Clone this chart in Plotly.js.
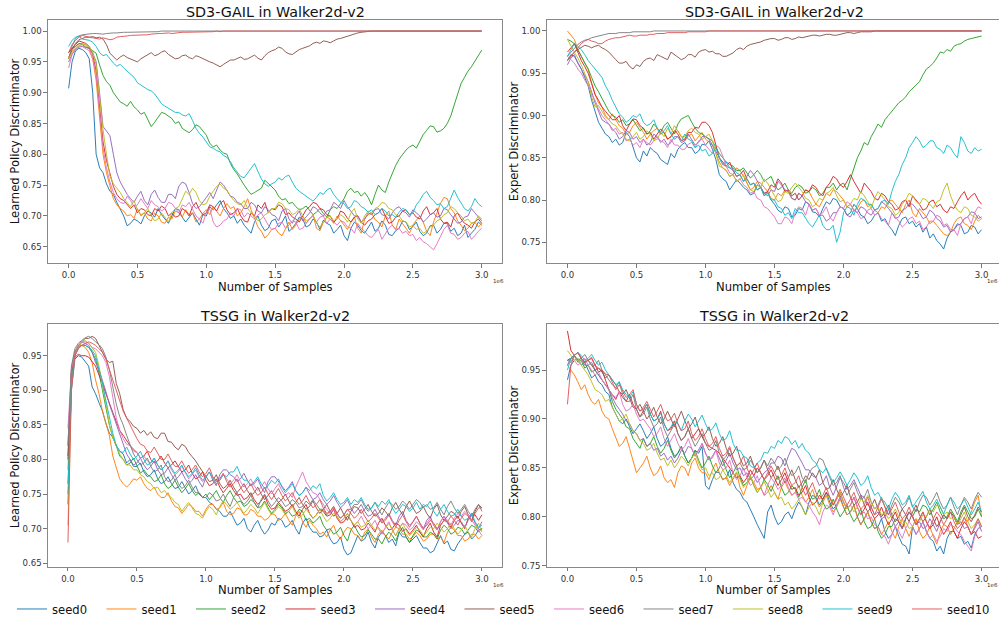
<!DOCTYPE html>
<html>
<head>
<meta charset="utf-8">
<script src="https://cdn.plot.ly/plotly-3.0.1.min.js"></script>
<style>html,body{margin:0;padding:0;background:#fff;}#chart{width:999px;height:628px;}</style>
</head>
<body>
<div id="chart"></div>
<script>
// sample positions (units of 1e6 samples)
const samples = [0,0.025,0.05,0.075,0.1,0.125,0.15,0.175,0.2,0.225,
0.25,0.275,0.3,0.325,0.35,0.375,0.4,0.425,0.45,0.475,
0.5,0.525,0.55,0.575,0.6,0.625,0.65,0.675,0.7,0.725,
0.75,0.775,0.8,0.825,0.85,0.875,0.9,0.925,0.95,0.975,
1,1.025,1.05,1.075,1.1,1.125,1.15,1.175,1.2,1.225,
1.25,1.275,1.3,1.325,1.35,1.375,1.4,1.425,1.45,1.475,
1.5,1.525,1.55,1.575,1.6,1.625,1.65,1.675,1.7,1.725,
1.75,1.775,1.8,1.825,1.85,1.875,1.9,1.925,1.95,1.975,
2,2.025,2.05,2.075,2.1,2.125,2.15,2.175,2.2,2.225,
2.25,2.275,2.3,2.325,2.35,2.375,2.4,2.425,2.45,2.475,
2.5,2.525,2.55,2.575,2.6,2.625,2.65,2.675,2.7,2.725,
2.75,2.775,2.8,2.825,2.85,2.875,2.9,2.925,2.95,2.975,
3];

const seedNames = ["seed0","seed1","seed2","seed3","seed4","seed5","seed6","seed7","seed8","seed9","seed10"];
const seedColors = ["#1f77b4","#ff7f0e","#2ca02c","#d62728","#9467bd","#8c564b","#e377c2","#7f7f7f","#bcbd22","#17becf","#e15759"];

const panelTitles = ["SD3-GAIL in Walker2d-v2","SD3-GAIL in Walker2d-v2","TSSG in Walker2d-v2","TSSG in Walker2d-v2"];
const yTitles = ["Learned Policy Discriminator","Expert Discriminator","Learned Policy Discriminator","Expert Discriminator"];
const xTitle = "Number of Samples";
const xTickVals = [0,0.5,1.0,1.5,2.0,2.5,3.0];
const xTickText = ["0.0","0.5","1.0","1.5","2.0","2.5","3.0"];
const yTickVals1 = [0.65,0.70,0.75,0.80,0.85,0.90,0.95,1.00];
const yTickVals2 = [0.75,0.80,0.85,0.90,0.95,1.00];
const yTickVals3 = [0.65,0.70,0.75,0.80,0.85,0.90,0.95];
const yTickVals4 = [0.75,0.80,0.85,0.90,0.95];

// ---- SD3-GAIL, Learned Policy Discriminator ----
const sd3Learned0 = [0.907,0.950,0.968,0.972,0.970,0.965,0.955,0.900,0.800,0.778,
0.770,0.752,0.740,0.735,0.722,0.712,0.700,0.684,0.688,0.695,
0.692,0.687,0.700,0.708,0.705,0.698,0.712,0.702,0.695,0.688,
0.700,0.712,0.710,0.698,0.690,0.697,0.705,0.695,0.685,0.702,
0.700,0.715,0.710,0.718,0.725,0.712,0.705,0.696,0.700,0.688,
0.695,0.685,0.678,0.672,0.690,0.700,0.685,0.676,0.680,0.692,
0.695,0.682,0.690,0.700,0.675,0.680,0.688,0.698,0.695,0.682,
0.685,0.695,0.690,0.678,0.693,0.688,0.685,0.672,0.678,0.685,
0.668,0.660,0.680,0.690,0.685,0.676,0.672,0.682,0.690,0.675,
0.680,0.692,0.685,0.670,0.668,0.676,0.680,0.692,0.690,0.678,
0.683,0.690,0.675,0.668,0.672,0.684,0.685,0.672,0.678,0.688,
0.688,0.675,0.680,0.668,0.672,0.685,0.665,0.672,0.678,0.690,
0.685];
const sd3Learned1 = [0.958,0.968,0.975,0.979,0.980,0.977,0.972,0.955,0.920,0.860,
0.800,0.770,0.748,0.728,0.718,0.712,0.708,0.700,0.702,0.696,
0.712,0.700,0.705,0.695,0.692,0.705,0.700,0.690,0.688,0.698,
0.695,0.708,0.705,0.698,0.710,0.702,0.705,0.690,0.695,0.704,
0.710,0.702,0.715,0.708,0.700,0.712,0.720,0.712,0.715,0.700,
0.705,0.715,0.728,0.710,0.695,0.682,0.675,0.664,0.670,0.678,
0.680,0.672,0.668,0.680,0.690,0.678,0.685,0.695,0.700,0.688,
0.695,0.702,0.680,0.676,0.690,0.698,0.695,0.688,0.700,0.692,
0.685,0.678,0.690,0.698,0.680,0.672,0.695,0.702,0.705,0.694,
0.690,0.682,0.700,0.708,0.685,0.678,0.695,0.688,0.680,0.672,
0.685,0.693,0.700,0.690,0.675,0.668,0.690,0.705,0.720,0.730,
0.728,0.712,0.705,0.692,0.685,0.676,0.680,0.688,0.690,0.682,
0.688];
const sd3Learned2 = [0.965,0.972,0.975,0.980,0.978,0.974,0.972,0.968,0.964,0.945,
0.928,0.918,0.912,0.900,0.893,0.885,0.882,0.878,0.886,0.877,
0.872,0.865,0.868,0.855,0.845,0.852,0.860,0.868,0.866,0.862,
0.858,0.850,0.853,0.842,0.838,0.835,0.840,0.848,0.845,0.838,
0.831,0.818,0.812,0.815,0.807,0.802,0.800,0.785,0.775,0.768,
0.758,0.750,0.742,0.735,0.738,0.742,0.745,0.758,0.753,0.748,
0.742,0.732,0.726,0.728,0.720,0.722,0.715,0.710,0.712,0.716,
0.709,0.702,0.706,0.712,0.704,0.698,0.710,0.715,0.712,0.720,
0.728,0.740,0.745,0.738,0.740,0.732,0.738,0.730,0.718,0.735,
0.750,0.742,0.738,0.755,0.770,0.782,0.792,0.800,0.807,0.812,
0.815,0.810,0.822,0.832,0.839,0.846,0.845,0.836,0.838,0.842,
0.850,0.862,0.880,0.898,0.915,0.925,0.935,0.942,0.951,0.960,
0.969];
const sd3Learned3 = [0.965,0.972,0.978,0.984,0.982,0.980,0.975,0.962,0.935,0.880,
0.820,0.790,0.770,0.748,0.735,0.728,0.725,0.718,0.712,0.718,
0.705,0.712,0.710,0.702,0.700,0.712,0.708,0.716,0.712,0.700,
0.705,0.698,0.700,0.712,0.708,0.700,0.715,0.722,0.710,0.702,
0.705,0.718,0.715,0.708,0.720,0.725,0.710,0.702,0.705,0.712,
0.700,0.692,0.690,0.705,0.700,0.718,0.712,0.722,0.705,0.712,
0.710,0.718,0.715,0.702,0.705,0.698,0.695,0.690,0.700,0.710,
0.715,0.722,0.720,0.712,0.710,0.702,0.700,0.690,0.695,0.708,
0.705,0.696,0.690,0.698,0.700,0.690,0.685,0.692,0.695,0.702,
0.705,0.712,0.700,0.688,0.690,0.698,0.700,0.708,0.710,0.702,
0.705,0.698,0.695,0.708,0.715,0.702,0.705,0.712,0.695,0.688,
0.690,0.682,0.700,0.705,0.695,0.688,0.685,0.680,0.690,0.695,
0.688];
const sd3Learned4 = [0.950,0.962,0.970,0.974,0.975,0.974,0.972,0.965,0.950,0.900,
0.845,0.838,0.830,0.800,0.770,0.755,0.745,0.735,0.728,0.722,
0.732,0.740,0.725,0.718,0.735,0.742,0.730,0.722,0.722,0.735,
0.735,0.728,0.748,0.755,0.752,0.738,0.720,0.712,0.715,0.722,
0.730,0.738,0.728,0.742,0.755,0.750,0.740,0.732,0.730,0.722,
0.720,0.712,0.712,0.722,0.718,0.708,0.705,0.715,0.710,0.702,
0.700,0.692,0.708,0.712,0.695,0.688,0.700,0.708,0.692,0.698,
0.705,0.715,0.712,0.705,0.700,0.708,0.710,0.722,0.718,0.712,
0.725,0.715,0.708,0.700,0.700,0.690,0.695,0.705,0.702,0.710,
0.712,0.702,0.700,0.695,0.705,0.712,0.715,0.708,0.705,0.698,
0.710,0.705,0.700,0.690,0.695,0.702,0.705,0.698,0.700,0.712,
0.710,0.702,0.695,0.688,0.690,0.698,0.700,0.712,0.705,0.698,
0.692];
const sd3Learned5 = [0.955,0.970,0.980,0.986,0.988,0.990,0.990,0.991,0.989,0.990,
0.987,0.978,0.964,0.958,0.953,0.958,0.961,0.957,0.955,0.952,
0.950,0.955,0.958,0.962,0.965,0.960,0.962,0.966,0.968,0.962,
0.958,0.955,0.956,0.960,0.961,0.957,0.955,0.960,0.958,0.955,
0.953,0.950,0.948,0.945,0.942,0.946,0.950,0.953,0.953,0.956,
0.958,0.954,0.955,0.958,0.961,0.956,0.953,0.960,0.965,0.968,
0.970,0.974,0.972,0.966,0.963,0.962,0.966,0.970,0.972,0.974,
0.976,0.980,0.982,0.980,0.984,0.983,0.981,0.984,0.987,0.988,
0.990,0.991,0.993,0.995,0.997,0.998,0.999,1,1,1,
1,1,1,1,1,1,1,1,1,1,
1,1,1,1,1,1,1,1,1,1,
1,1,1,1,1,1,1,1,1,1,
1];
const sd3Learned6 = [0.940,0.962,0.972,0.976,0.975,0.972,0.968,0.955,0.930,0.870,
0.810,0.778,0.755,0.738,0.728,0.722,0.720,0.732,0.725,0.715,
0.718,0.728,0.720,0.712,0.725,0.718,0.715,0.708,0.712,0.722,
0.720,0.712,0.705,0.718,0.715,0.722,0.710,0.700,0.695,0.688,
0.705,0.712,0.690,0.682,0.685,0.692,0.695,0.705,0.700,0.712,
0.710,0.698,0.705,0.700,0.695,0.702,0.705,0.695,0.685,0.678,
0.680,0.688,0.690,0.680,0.685,0.692,0.690,0.678,0.680,0.688,
0.695,0.700,0.690,0.698,0.700,0.688,0.695,0.690,0.685,0.692,
0.690,0.682,0.680,0.672,0.688,0.680,0.675,0.668,0.665,0.672,
0.678,0.662,0.670,0.680,0.685,0.678,0.680,0.672,0.675,0.668,
0.670,0.660,0.665,0.658,0.655,0.650,0.645,0.655,0.668,0.678,
0.685,0.672,0.670,0.662,0.665,0.672,0.675,0.662,0.668,0.675,
0.680];
const sd3Learned7 = [0.955,0.975,0.988,0.992,0.994,0.995,0.995,0.996,0.996,0.995,
0.995,0.996,0.997,0.997,0.997,0.998,0.998,0.998,0.998,0.999,
0.999,0.998,0.998,0.999,0.999,0.999,0.999,1,1,0.999,
0.999,1,1,1,1,1,1,1,1,1,
1,1,1,1,1,1,1,1,1,1,
1,1,1,1,1,1,1,1,1,1,
1,1,1,1,1,1,1,1,1,1,
1,1,1,1,1,1,1,1,1,1,
1,1,1,1,1,1,1,1,1,1,
1,1,1,1,1,1,1,1,1,1,
1,1,1,1,1,1,1,1,1,1,
1,1,1,1,1,1,1,1,1,1,
1];
const sd3Learned8 = [0.955,0.965,0.972,0.976,0.978,0.978,0.975,0.965,0.945,0.890,
0.840,0.800,0.765,0.752,0.745,0.738,0.728,0.722,0.715,0.725,
0.710,0.702,0.705,0.712,0.700,0.692,0.695,0.705,0.698,0.690,
0.705,0.712,0.715,0.728,0.740,0.735,0.745,0.738,0.725,0.718,
0.720,0.732,0.740,0.748,0.752,0.745,0.742,0.732,0.725,0.720,
0.718,0.725,0.712,0.705,0.700,0.692,0.695,0.702,0.705,0.712,
0.712,0.722,0.720,0.712,0.710,0.702,0.705,0.712,0.700,0.692,
0.695,0.702,0.688,0.682,0.690,0.698,0.700,0.692,0.695,0.702,
0.698,0.690,0.705,0.712,0.695,0.688,0.700,0.708,0.705,0.712,
0.715,0.722,0.720,0.712,0.710,0.702,0.700,0.692,0.690,0.682,
0.685,0.678,0.680,0.672,0.675,0.682,0.685,0.692,0.695,0.702,
0.705,0.715,0.712,0.705,0.700,0.692,0.695,0.688,0.690,0.700,
0.695];
const sd3Learned9 = [0.975,0.985,0.990,0.992,0.987,0.986,0.985,0.982,0.975,0.965,
0.960,0.962,0.955,0.948,0.943,0.946,0.940,0.935,0.930,0.925,
0.916,0.912,0.908,0.905,0.903,0.898,0.890,0.882,0.878,0.875,
0.872,0.868,0.868,0.864,0.862,0.866,0.855,0.842,0.834,0.828,
0.820,0.812,0.810,0.806,0.804,0.798,0.795,0.788,0.778,0.770,
0.764,0.762,0.770,0.778,0.785,0.772,0.760,0.752,0.748,0.752,
0.755,0.762,0.758,0.764,0.766,0.755,0.745,0.740,0.736,0.732,
0.728,0.724,0.730,0.738,0.735,0.742,0.745,0.735,0.728,0.722,
0.720,0.712,0.715,0.725,0.722,0.715,0.712,0.706,0.710,0.702,
0.705,0.712,0.708,0.700,0.702,0.698,0.706,0.712,0.710,0.702,
0.705,0.718,0.725,0.735,0.740,0.730,0.725,0.718,0.720,0.712,
0.715,0.728,0.742,0.730,0.720,0.712,0.708,0.715,0.728,0.720,
0.715];
const sd3Learned10 = [0.965,0.978,0.985,0.990,0.993,0.991,0.990,0.989,0.988,0.987,
0.989,0.988,0.986,0.987,0.990,0.991,0.991,0.992,0.993,0.993,
0.994,0.994,0.993,0.994,0.995,0.996,0.996,0.996,0.997,0.997,
0.996,0.997,0.998,0.998,0.998,0.998,0.999,0.999,0.998,0.999,
0.999,0.999,0.999,1,0.999,1,1,1,1,1,
1,1,1,1,1,1,1,1,1,1,
1,1,1,1,1,1,1,1,1,1,
1,1,1,1,1,1,1,1,1,1,
1,1,1,1,1,1,1,1,1,1,
1,1,1,1,1,1,1,1,1,1,
1,1,1,1,1,1,1,1,1,1,
1,1,1,1,1,1,1,1,1,1,
1];

// ---- SD3-GAIL, Expert Discriminator ----
const sd3Expert0 = [0.965,0.972,0.970,0.962,0.955,0.945,0.935,0.918,0.905,0.892,
0.885,0.878,0.875,0.868,0.872,0.865,0.868,0.880,0.875,0.862,
0.850,0.845,0.858,0.852,0.862,0.858,0.855,0.848,0.845,0.842,
0.855,0.850,0.860,0.865,0.868,0.862,0.862,0.855,0.858,0.866,
0.865,0.870,0.860,0.848,0.830,0.825,0.822,0.812,0.818,0.824,
0.820,0.815,0.812,0.806,0.808,0.818,0.815,0.805,0.810,0.800,
0.795,0.788,0.785,0.792,0.790,0.780,0.782,0.790,0.788,0.798,
0.795,0.786,0.785,0.780,0.790,0.798,0.795,0.802,0.800,0.792,
0.790,0.782,0.785,0.795,0.790,0.782,0.780,0.772,0.775,0.782,
0.785,0.775,0.778,0.770,0.765,0.758,0.770,0.778,0.780,0.772,
0.775,0.768,0.772,0.762,0.768,0.755,0.760,0.752,0.748,0.742,
0.755,0.762,0.765,0.772,0.770,0.760,0.762,0.770,0.768,0.760,
0.765];
const sd3Expert1 = [1.000,0.995,0.990,0.978,0.970,0.962,0.955,0.938,0.925,0.915,
0.910,0.900,0.895,0.902,0.895,0.888,0.885,0.878,0.880,0.888,
0.892,0.886,0.880,0.872,0.878,0.882,0.885,0.878,0.880,0.872,
0.875,0.880,0.882,0.875,0.870,0.876,0.878,0.870,0.875,0.880,
0.872,0.868,0.865,0.855,0.845,0.838,0.835,0.828,0.830,0.838,
0.835,0.828,0.820,0.812,0.815,0.822,0.820,0.815,0.810,0.802,
0.800,0.808,0.805,0.812,0.810,0.802,0.800,0.808,0.805,0.812,
0.810,0.802,0.795,0.792,0.800,0.808,0.805,0.812,0.810,0.805,
0.800,0.792,0.795,0.788,0.790,0.798,0.800,0.792,0.795,0.788,
0.785,0.792,0.790,0.798,0.800,0.795,0.790,0.785,0.795,0.800,
0.785,0.780,0.790,0.785,0.780,0.772,0.775,0.770,0.765,0.760,
0.758,0.762,0.772,0.778,0.780,0.772,0.770,0.765,0.775,0.782,
0.778];
const sd3Expert2 = [0.990,0.988,0.985,0.978,0.970,0.962,0.955,0.945,0.935,0.928,
0.920,0.912,0.905,0.900,0.898,0.892,0.895,0.888,0.890,0.895,
0.888,0.882,0.885,0.878,0.882,0.890,0.885,0.880,0.888,0.892,
0.885,0.878,0.890,0.896,0.898,0.900,0.892,0.885,0.880,0.878,
0.875,0.872,0.870,0.862,0.855,0.850,0.845,0.842,0.840,0.835,
0.835,0.838,0.832,0.826,0.830,0.835,0.830,0.822,0.825,0.828,
0.818,0.812,0.815,0.820,0.812,0.808,0.815,0.818,0.815,0.808,
0.810,0.815,0.812,0.805,0.808,0.815,0.815,0.820,0.812,0.818,
0.820,0.812,0.825,0.838,0.850,0.858,0.868,0.865,0.875,0.882,
0.890,0.886,0.895,0.900,0.905,0.910,0.915,0.918,0.922,0.928,
0.932,0.935,0.940,0.948,0.955,0.958,0.962,0.968,0.975,0.974,
0.978,0.976,0.982,0.984,0.985,0.988,0.990,0.991,0.992,0.993,
0.994];
const sd3Expert3 = [0.975,0.980,0.985,0.975,0.965,0.958,0.950,0.938,0.925,0.918,
0.910,0.905,0.900,0.895,0.895,0.900,0.888,0.882,0.890,0.896,
0.895,0.888,0.885,0.878,0.880,0.872,0.878,0.884,0.880,0.872,
0.875,0.882,0.878,0.870,0.872,0.880,0.880,0.886,0.885,0.892,
0.892,0.888,0.880,0.865,0.850,0.845,0.840,0.845,0.835,0.828,
0.830,0.835,0.825,0.818,0.820,0.812,0.815,0.808,0.810,0.818,
0.815,0.825,0.820,0.810,0.812,0.805,0.808,0.800,0.805,0.812,
0.810,0.818,0.815,0.808,0.805,0.815,0.820,0.828,0.825,0.818,
0.815,0.822,0.830,0.822,0.815,0.808,0.820,0.815,0.810,0.802,
0.800,0.808,0.805,0.798,0.795,0.788,0.790,0.798,0.800,0.792,
0.805,0.800,0.795,0.788,0.790,0.798,0.800,0.792,0.795,0.788,
0.785,0.792,0.790,0.798,0.805,0.810,0.800,0.805,0.808,0.800,
0.795];
const sd3Expert4 = [0.960,0.968,0.972,0.962,0.955,0.948,0.940,0.928,0.915,0.905,
0.895,0.892,0.890,0.884,0.880,0.872,0.875,0.882,0.880,0.872,
0.875,0.868,0.872,0.865,0.868,0.878,0.875,0.868,0.872,0.865,
0.868,0.875,0.875,0.868,0.870,0.878,0.872,0.865,0.868,0.875,
0.875,0.872,0.865,0.858,0.850,0.842,0.840,0.838,0.835,0.828,
0.830,0.822,0.828,0.835,0.830,0.822,0.815,0.808,0.805,0.812,
0.810,0.822,0.818,0.812,0.810,0.802,0.800,0.808,0.805,0.798,
0.795,0.788,0.790,0.782,0.782,0.775,0.778,0.785,0.785,0.792,
0.790,0.782,0.780,0.788,0.785,0.792,0.790,0.785,0.782,0.788,
0.790,0.798,0.795,0.790,0.785,0.778,0.780,0.788,0.790,0.796,
0.795,0.790,0.785,0.778,0.780,0.788,0.785,0.778,0.775,0.768,
0.770,0.762,0.765,0.770,0.772,0.778,0.780,0.786,0.785,0.778,
0.780];
const sd3Expert5 = [0.965,0.970,0.975,0.978,0.981,0.983,0.982,0.980,0.982,0.983,
0.980,0.978,0.975,0.970,0.966,0.962,0.962,0.964,0.958,0.955,
0.960,0.958,0.964,0.967,0.968,0.965,0.972,0.970,0.968,0.966,
0.975,0.972,0.970,0.966,0.968,0.972,0.972,0.969,0.975,0.977,
0.978,0.975,0.976,0.973,0.973,0.970,0.970,0.972,0.974,0.978,
0.980,0.978,0.982,0.984,0.985,0.986,0.987,0.989,0.990,0.991,
0.991,0.989,0.990,0.992,0.992,0.990,0.991,0.993,0.992,0.993,
0.994,0.995,0.995,0.994,0.995,0.996,0.996,0.995,0.995,0.996,
0.997,0.998,0.998,0.997,0.998,0.999,0.999,0.999,0.999,1,
1,1,1,1,1,1,1,1,1,1,
1,1,1,1,1,1,1,1,1,1,
1,1,1,1,1,1,1,1,1,1,
1];
const sd3Expert6 = [0.970,0.966,0.962,0.955,0.950,0.942,0.935,0.925,0.918,0.908,
0.900,0.895,0.890,0.882,0.885,0.878,0.880,0.870,0.872,0.865,
0.868,0.862,0.872,0.868,0.865,0.870,0.875,0.870,0.868,0.862,
0.872,0.865,0.865,0.860,0.860,0.866,0.868,0.862,0.870,0.872,
0.865,0.860,0.855,0.865,0.862,0.852,0.840,0.832,0.830,0.822,
0.825,0.818,0.815,0.808,0.810,0.802,0.800,0.792,0.790,0.785,
0.780,0.772,0.772,0.780,0.778,0.772,0.785,0.792,0.790,0.782,
0.795,0.788,0.790,0.782,0.785,0.792,0.780,0.775,0.785,0.792,
0.790,0.798,0.795,0.788,0.785,0.778,0.780,0.788,0.790,0.782,
0.785,0.778,0.775,0.770,0.785,0.780,0.775,0.768,0.772,0.778,
0.780,0.772,0.775,0.765,0.768,0.775,0.775,0.782,0.780,0.770,
0.772,0.765,0.765,0.758,0.772,0.778,0.780,0.772,0.785,0.792,
0.790];
const sd3Expert7 = [0.970,0.975,0.980,0.984,0.987,0.989,0.990,0.992,0.993,0.994,
0.995,0.996,0.997,0.997,0.997,0.998,0.998,0.998,0.998,0.999,
0.999,0.999,0.999,0.999,0.999,1,1,1,1,1,
1,1,1,1,1,1,1,1,1,1,
1,1,1,1,1,1,1,1,1,1,
1,1,1,1,1,1,1,1,1,1,
1,1,1,1,1,1,1,1,1,1,
1,1,1,1,1,1,1,1,1,1,
1,1,1,1,1,1,1,1,1,1,
1,1,1,1,1,1,1,1,1,1,
1,1,1,1,1,1,1,1,1,1,
1,1,1,1,1,1,1,1,1,1,
1];
const sd3Expert8 = [0.990,0.982,0.975,0.968,0.960,0.950,0.940,0.922,0.910,0.912,
0.905,0.898,0.895,0.890,0.888,0.882,0.878,0.872,0.870,0.875,
0.880,0.872,0.875,0.882,0.878,0.870,0.872,0.880,0.875,0.885,
0.878,0.888,0.882,0.875,0.875,0.882,0.885,0.880,0.878,0.872,
0.875,0.878,0.870,0.855,0.840,0.838,0.835,0.828,0.830,0.822,
0.825,0.830,0.820,0.812,0.810,0.818,0.815,0.825,0.820,0.812,
0.805,0.798,0.800,0.810,0.808,0.815,0.820,0.815,0.810,0.802,
0.800,0.792,0.795,0.802,0.800,0.808,0.810,0.815,0.805,0.798,
0.800,0.792,0.795,0.802,0.800,0.810,0.805,0.798,0.790,0.802,
0.810,0.805,0.800,0.792,0.790,0.782,0.785,0.795,0.800,0.808,
0.805,0.798,0.795,0.802,0.800,0.795,0.790,0.798,0.800,0.812,
0.820,0.805,0.795,0.788,0.785,0.792,0.790,0.782,0.780,0.775,
0.778];
const sd3Expert9 = [0.970,0.978,0.985,0.982,0.978,0.972,0.965,0.960,0.955,0.950,
0.945,0.935,0.928,0.918,0.910,0.902,0.898,0.892,0.895,0.900,
0.898,0.902,0.892,0.888,0.890,0.895,0.885,0.878,0.882,0.888,
0.878,0.872,0.875,0.870,0.878,0.872,0.870,0.862,0.865,0.858,
0.860,0.852,0.855,0.862,0.850,0.842,0.845,0.838,0.838,0.832,
0.830,0.822,0.825,0.818,0.820,0.812,0.815,0.805,0.808,0.800,
0.800,0.792,0.790,0.782,0.785,0.778,0.790,0.785,0.785,0.778,
0.772,0.768,0.775,0.782,0.770,0.765,0.765,0.770,0.750,0.762,
0.785,0.792,0.790,0.782,0.795,0.802,0.800,0.795,0.795,0.788,
0.790,0.798,0.800,0.795,0.810,0.822,0.830,0.842,0.850,0.862,
0.868,0.875,0.870,0.862,0.865,0.870,0.870,0.862,0.860,0.855,
0.865,0.862,0.855,0.850,0.875,0.868,0.858,0.855,0.862,0.858,
0.860];
const sd3Expert10 = [0.965,0.970,0.975,0.980,0.985,0.988,0.990,0.988,0.987,0.985,
0.985,0.988,0.990,0.991,0.992,0.992,0.993,0.994,0.995,0.994,
0.994,0.995,0.995,0.995,0.996,0.996,0.997,0.997,0.997,0.998,
0.998,0.998,0.998,0.998,0.998,0.999,0.999,0.999,0.999,0.999,
0.999,1,1,1,1,1,1,1,1,1,
1,1,1,1,1,1,1,1,1,1,
1,1,1,1,1,1,1,1,1,1,
1,1,1,1,1,1,1,1,1,1,
1,1,1,1,1,1,1,1,1,1,
1,1,1,1,1,1,1,1,1,1,
1,1,1,1,1,1,1,1,1,1,
1,1,1,1,1,1,1,1,1,1,
1];

// ---- TSSG, Learned Policy Discriminator ----
const tssgLearned0 = [0.765,0.900,0.945,0.950,0.948,0.942,0.935,0.905,0.895,0.882,
0.870,0.852,0.838,0.832,0.820,0.812,0.808,0.795,0.800,0.790,
0.790,0.795,0.782,0.775,0.778,0.785,0.772,0.765,0.768,0.775,
0.765,0.758,0.760,0.768,0.758,0.750,0.755,0.762,0.750,0.745,
0.745,0.738,0.735,0.728,0.725,0.718,0.718,0.725,0.715,0.705,
0.708,0.715,0.700,0.695,0.705,0.712,0.700,0.692,0.698,0.708,
0.705,0.715,0.712,0.702,0.705,0.712,0.700,0.692,0.708,0.715,
0.702,0.695,0.695,0.688,0.690,0.698,0.685,0.678,0.680,0.688,
0.670,0.662,0.665,0.678,0.690,0.682,0.685,0.695,0.680,0.672,
0.688,0.695,0.690,0.680,0.685,0.675,0.695,0.688,0.688,0.680,
0.685,0.690,0.680,0.672,0.672,0.665,0.668,0.680,0.690,0.678,
0.682,0.670,0.668,0.678,0.685,0.692,0.695,0.685,0.690,0.698,
0.700];
const tssgLearned1 = [0.785,0.930,0.955,0.965,0.965,0.962,0.955,0.940,0.915,0.895,
0.870,0.852,0.835,0.805,0.790,0.772,0.765,0.760,0.765,0.772,
0.770,0.775,0.765,0.758,0.755,0.760,0.750,0.745,0.745,0.752,
0.740,0.732,0.730,0.722,0.728,0.735,0.732,0.725,0.725,0.718,
0.728,0.735,0.735,0.728,0.730,0.738,0.725,0.720,0.722,0.730,
0.728,0.720,0.720,0.728,0.725,0.718,0.718,0.712,0.715,0.722,
0.720,0.712,0.715,0.722,0.712,0.705,0.718,0.725,0.710,0.702,
0.712,0.705,0.700,0.692,0.695,0.688,0.698,0.705,0.692,0.685,
0.695,0.702,0.700,0.692,0.690,0.682,0.695,0.700,0.688,0.680,
0.692,0.698,0.690,0.685,0.695,0.702,0.700,0.692,0.692,0.685,
0.688,0.695,0.690,0.682,0.685,0.692,0.692,0.685,0.688,0.680,
0.695,0.702,0.698,0.690,0.690,0.682,0.685,0.692,0.692,0.685,
0.690];
const tssgLearned2 = [0.735,0.910,0.950,0.962,0.965,0.965,0.962,0.955,0.945,0.925,
0.900,0.872,0.850,0.832,0.820,0.805,0.800,0.792,0.795,0.802,
0.790,0.780,0.785,0.778,0.775,0.768,0.770,0.778,0.765,0.758,
0.762,0.770,0.760,0.752,0.758,0.765,0.755,0.748,0.752,0.745,
0.750,0.742,0.748,0.755,0.745,0.738,0.748,0.755,0.745,0.738,
0.740,0.732,0.735,0.742,0.738,0.730,0.732,0.740,0.730,0.722,
0.728,0.735,0.730,0.722,0.725,0.718,0.720,0.728,0.725,0.712,
0.715,0.708,0.712,0.718,0.705,0.698,0.700,0.692,0.695,0.702,
0.690,0.682,0.698,0.705,0.695,0.688,0.690,0.698,0.692,0.685,
0.685,0.678,0.688,0.695,0.690,0.682,0.695,0.702,0.688,0.680,
0.690,0.698,0.695,0.688,0.688,0.695,0.692,0.685,0.698,0.705,
0.700,0.692,0.695,0.702,0.700,0.692,0.698,0.705,0.702,0.695,
0.700];
const tssgLearned3 = [0.800,0.920,0.948,0.952,0.950,0.950,0.948,0.942,0.935,0.922,
0.910,0.895,0.880,0.868,0.855,0.842,0.835,0.828,0.820,0.815,
0.810,0.802,0.805,0.812,0.800,0.795,0.798,0.805,0.795,0.788,
0.792,0.798,0.790,0.782,0.785,0.792,0.780,0.772,0.775,0.782,
0.770,0.762,0.765,0.772,0.760,0.752,0.758,0.765,0.755,0.748,
0.750,0.742,0.745,0.752,0.742,0.735,0.740,0.748,0.735,0.728,
0.730,0.738,0.732,0.725,0.728,0.735,0.725,0.718,0.728,0.735,
0.722,0.715,0.720,0.728,0.725,0.718,0.720,0.728,0.715,0.708,
0.710,0.718,0.712,0.702,0.705,0.698,0.700,0.708,0.702,0.695,
0.708,0.715,0.705,0.698,0.700,0.708,0.705,0.696,0.700,0.692,
0.698,0.705,0.695,0.688,0.700,0.708,0.695,0.688,0.705,0.712,
0.710,0.702,0.712,0.718,0.708,0.700,0.715,0.722,0.720,0.712,
0.720];
const tssgLearned4 = [0.820,0.930,0.955,0.965,0.970,0.968,0.965,0.955,0.940,0.930,
0.915,0.898,0.880,0.865,0.850,0.835,0.820,0.808,0.800,0.792,
0.795,0.802,0.792,0.785,0.790,0.798,0.785,0.778,0.780,0.788,
0.778,0.770,0.775,0.782,0.772,0.765,0.770,0.778,0.768,0.760,
0.775,0.782,0.770,0.762,0.778,0.785,0.785,0.778,0.775,0.768,
0.772,0.780,0.770,0.762,0.765,0.772,0.760,0.752,0.768,0.775,
0.775,0.768,0.762,0.755,0.760,0.768,0.755,0.748,0.752,0.760,
0.750,0.742,0.745,0.752,0.742,0.735,0.740,0.748,0.738,0.730,
0.735,0.742,0.730,0.722,0.728,0.735,0.725,0.718,0.720,0.728,
0.718,0.710,0.715,0.722,0.712,0.705,0.718,0.725,0.712,0.705,
0.710,0.718,0.708,0.700,0.712,0.718,0.705,0.698,0.710,0.718,
0.708,0.700,0.705,0.712,0.710,0.702,0.712,0.720,0.708,0.700,
0.710];
const tssgLearned5 = [0.805,0.925,0.955,0.962,0.970,0.975,0.975,0.978,0.975,0.965,
0.955,0.945,0.940,0.942,0.910,0.895,0.872,0.860,0.855,0.848,
0.845,0.838,0.842,0.835,0.840,0.832,0.830,0.838,0.838,0.826,
0.825,0.818,0.814,0.822,0.819,0.810,0.804,0.798,0.790,0.782,
0.775,0.768,0.770,0.778,0.765,0.758,0.762,0.770,0.760,0.752,
0.758,0.765,0.755,0.748,0.752,0.760,0.750,0.742,0.748,0.755,
0.745,0.738,0.742,0.750,0.740,0.732,0.738,0.745,0.735,0.728,
0.732,0.740,0.730,0.722,0.728,0.735,0.725,0.718,0.722,0.730,
0.720,0.712,0.725,0.732,0.730,0.722,0.728,0.735,0.725,0.718,
0.722,0.730,0.725,0.718,0.730,0.738,0.728,0.720,0.732,0.740,
0.730,0.722,0.725,0.732,0.722,0.715,0.728,0.735,0.720,0.712,
0.718,0.725,0.722,0.715,0.725,0.732,0.720,0.712,0.725,0.735,
0.730];
const tssgLearned6 = [0.845,0.930,0.955,0.965,0.970,0.970,0.968,0.962,0.960,0.955,
0.950,0.940,0.920,0.890,0.860,0.842,0.830,0.822,0.820,0.812,
0.810,0.802,0.805,0.798,0.795,0.802,0.792,0.785,0.790,0.798,
0.785,0.778,0.782,0.790,0.780,0.772,0.778,0.785,0.775,0.768,
0.775,0.782,0.772,0.765,0.770,0.778,0.772,0.765,0.770,0.778,
0.768,0.760,0.765,0.772,0.762,0.755,0.760,0.768,0.758,0.750,
0.758,0.765,0.755,0.748,0.752,0.745,0.760,0.772,0.782,0.768,
0.760,0.752,0.750,0.742,0.735,0.728,0.722,0.730,0.718,0.710,
0.715,0.722,0.712,0.705,0.710,0.718,0.708,0.700,0.705,0.712,
0.700,0.692,0.702,0.710,0.698,0.690,0.700,0.708,0.705,0.698,
0.702,0.710,0.705,0.698,0.708,0.715,0.705,0.698,0.710,0.718,
0.712,0.705,0.715,0.722,0.718,0.725,0.720,0.712,0.705,0.698,
0.690];
const tssgLearned7 = [0.820,0.935,0.960,0.968,0.972,0.976,0.978,0.975,0.970,0.966,
0.960,0.948,0.930,0.905,0.880,0.862,0.850,0.835,0.820,0.808,
0.800,0.792,0.795,0.802,0.790,0.782,0.785,0.792,0.775,0.768,
0.770,0.778,0.765,0.758,0.762,0.770,0.760,0.752,0.752,0.745,
0.745,0.752,0.748,0.740,0.742,0.750,0.740,0.732,0.745,0.752,
0.742,0.735,0.740,0.748,0.738,0.730,0.742,0.750,0.740,0.732,
0.738,0.745,0.740,0.732,0.735,0.742,0.738,0.730,0.732,0.740,
0.735,0.742,0.735,0.728,0.728,0.720,0.725,0.732,0.722,0.715,
0.720,0.728,0.728,0.735,0.735,0.742,0.732,0.725,0.730,0.738,
0.728,0.720,0.730,0.738,0.735,0.728,0.732,0.740,0.735,0.728,
0.735,0.742,0.738,0.730,0.735,0.728,0.730,0.738,0.728,0.720,
0.732,0.740,0.730,0.722,0.728,0.735,0.725,0.718,0.728,0.735,
0.725];
const tssgLearned8 = [0.705,0.905,0.950,0.962,0.970,0.972,0.968,0.962,0.955,0.935,
0.910,0.880,0.850,0.832,0.820,0.808,0.800,0.792,0.792,0.785,
0.785,0.778,0.775,0.768,0.765,0.758,0.760,0.752,0.755,0.748,
0.745,0.738,0.735,0.725,0.732,0.738,0.730,0.722,0.720,0.715,
0.725,0.732,0.728,0.720,0.732,0.740,0.735,0.728,0.732,0.738,
0.730,0.722,0.728,0.735,0.730,0.722,0.730,0.738,0.728,0.720,
0.725,0.732,0.728,0.720,0.725,0.732,0.722,0.715,0.720,0.728,
0.722,0.715,0.720,0.728,0.718,0.710,0.715,0.722,0.718,0.710,
0.715,0.722,0.712,0.705,0.710,0.702,0.705,0.712,0.705,0.698,
0.702,0.695,0.700,0.708,0.698,0.690,0.700,0.708,0.698,0.690,
0.695,0.702,0.698,0.690,0.695,0.702,0.700,0.708,0.702,0.695,
0.700,0.708,0.700,0.692,0.698,0.705,0.695,0.688,0.700,0.708,
0.695];
const tssgLearned9 = [0.750,0.910,0.950,0.960,0.965,0.965,0.962,0.958,0.950,0.932,
0.910,0.885,0.860,0.838,0.820,0.812,0.810,0.818,0.808,0.800,
0.805,0.812,0.800,0.792,0.795,0.802,0.792,0.785,0.790,0.798,
0.788,0.780,0.785,0.792,0.782,0.775,0.780,0.788,0.778,0.770,
0.775,0.782,0.772,0.765,0.770,0.778,0.775,0.782,0.782,0.790,
0.778,0.770,0.770,0.762,0.768,0.775,0.765,0.758,0.762,0.770,
0.765,0.772,0.760,0.752,0.758,0.765,0.755,0.748,0.752,0.760,
0.755,0.762,0.758,0.765,0.748,0.740,0.745,0.752,0.742,0.735,
0.738,0.745,0.735,0.742,0.738,0.745,0.735,0.728,0.730,0.738,
0.732,0.740,0.735,0.742,0.730,0.722,0.728,0.735,0.732,0.725,
0.730,0.738,0.728,0.735,0.732,0.740,0.725,0.718,0.728,0.735,
0.725,0.718,0.720,0.728,0.718,0.712,0.715,0.722,0.710,0.702,
0.705];
const tssgLearned10 = [0.680,0.900,0.950,0.960,0.965,0.968,0.970,0.968,0.965,0.960,
0.955,0.945,0.930,0.915,0.900,0.885,0.870,0.860,0.850,0.838,
0.830,0.822,0.820,0.812,0.810,0.818,0.808,0.800,0.800,0.808,
0.798,0.790,0.790,0.798,0.788,0.780,0.785,0.792,0.782,0.775,
0.780,0.788,0.775,0.768,0.772,0.780,0.768,0.760,0.765,0.772,
0.760,0.752,0.758,0.765,0.755,0.748,0.752,0.760,0.750,0.742,
0.750,0.758,0.748,0.740,0.745,0.752,0.742,0.735,0.740,0.748,
0.738,0.730,0.735,0.742,0.730,0.722,0.725,0.732,0.722,0.715,
0.720,0.728,0.722,0.715,0.720,0.728,0.718,0.710,0.715,0.722,
0.715,0.708,0.712,0.720,0.710,0.702,0.712,0.720,0.710,0.702,
0.710,0.718,0.708,0.700,0.705,0.712,0.708,0.700,0.705,0.712,
0.710,0.718,0.712,0.705,0.715,0.722,0.718,0.710,0.722,0.730,
0.730];

// ---- TSSG, Expert Discriminator ----
const tssgExpert0 = [0.940,0.955,0.960,0.962,0.955,0.958,0.950,0.942,0.945,0.938,
0.935,0.928,0.925,0.912,0.905,0.898,0.895,0.900,0.892,0.885,
0.890,0.895,0.888,0.880,0.885,0.892,0.880,0.872,0.875,0.882,
0.870,0.862,0.865,0.872,0.862,0.855,0.860,0.868,0.865,0.872,
0.832,0.828,0.838,0.846,0.845,0.838,0.840,0.848,0.835,0.828,
0.825,0.818,0.815,0.808,0.800,0.792,0.785,0.778,0.805,0.812,
0.800,0.792,0.795,0.802,0.805,0.798,0.808,0.815,0.810,0.802,
0.815,0.822,0.820,0.812,0.818,0.825,0.815,0.808,0.812,0.820,
0.810,0.802,0.805,0.812,0.800,0.792,0.798,0.805,0.795,0.788,
0.790,0.798,0.785,0.778,0.782,0.790,0.780,0.772,0.770,0.762,
0.790,0.782,0.788,0.795,0.785,0.778,0.775,0.765,0.770,0.762,
0.778,0.785,0.785,0.778,0.780,0.772,0.775,0.768,0.782,0.788,
0.790];
const tssgExpert1 = [0.955,0.950,0.945,0.938,0.930,0.935,0.925,0.918,0.915,0.920,
0.908,0.902,0.900,0.890,0.880,0.872,0.875,0.882,0.870,0.858,
0.845,0.850,0.855,0.862,0.850,0.842,0.845,0.852,0.840,0.835,
0.838,0.830,0.845,0.852,0.850,0.842,0.855,0.860,0.850,0.845,
0.845,0.838,0.848,0.855,0.845,0.838,0.840,0.832,0.838,0.845,
0.830,0.822,0.832,0.840,0.835,0.828,0.830,0.822,0.825,0.832,
0.825,0.818,0.830,0.836,0.828,0.822,0.825,0.832,0.822,0.815,
0.820,0.828,0.818,0.810,0.815,0.822,0.812,0.805,0.810,0.818,
0.810,0.802,0.805,0.812,0.800,0.792,0.798,0.805,0.795,0.788,
0.790,0.782,0.788,0.795,0.785,0.778,0.790,0.798,0.788,0.780,
0.790,0.798,0.785,0.778,0.782,0.790,0.780,0.772,0.785,0.792,
0.790,0.782,0.788,0.795,0.792,0.798,0.795,0.805,0.815,0.822,
0.800];
const tssgExpert2 = [0.960,0.962,0.965,0.958,0.960,0.952,0.955,0.948,0.950,0.945,
0.940,0.935,0.930,0.918,0.910,0.905,0.900,0.892,0.890,0.880,
0.875,0.870,0.880,0.872,0.875,0.882,0.872,0.865,0.870,0.878,
0.868,0.860,0.865,0.872,0.862,0.855,0.860,0.868,0.858,0.850,
0.855,0.862,0.852,0.845,0.850,0.858,0.848,0.840,0.845,0.852,
0.840,0.832,0.835,0.842,0.832,0.825,0.830,0.838,0.833,0.826,
0.835,0.842,0.830,0.822,0.825,0.832,0.828,0.820,0.830,0.838,
0.825,0.818,0.820,0.828,0.815,0.808,0.810,0.818,0.808,0.800,
0.805,0.812,0.802,0.795,0.800,0.808,0.795,0.788,0.790,0.798,
0.785,0.778,0.782,0.790,0.790,0.798,0.795,0.788,0.798,0.805,
0.800,0.808,0.805,0.812,0.810,0.802,0.808,0.815,0.805,0.798,
0.800,0.808,0.802,0.795,0.805,0.812,0.805,0.798,0.800,0.808,
0.800];
const tssgExpert3 = [0.990,0.970,0.965,0.968,0.962,0.958,0.960,0.962,0.955,0.948,
0.950,0.940,0.930,0.925,0.920,0.928,0.922,0.918,0.925,0.915,
0.910,0.902,0.908,0.915,0.905,0.898,0.900,0.908,0.895,0.888,
0.890,0.898,0.885,0.878,0.882,0.890,0.880,0.885,0.890,0.882,
0.875,0.872,0.870,0.868,0.865,0.860,0.855,0.850,0.845,0.840,
0.842,0.835,0.840,0.848,0.842,0.850,0.845,0.838,0.842,0.848,
0.840,0.832,0.838,0.845,0.835,0.828,0.830,0.822,0.825,0.832,
0.820,0.812,0.815,0.822,0.818,0.825,0.820,0.812,0.818,0.825,
0.815,0.808,0.812,0.820,0.810,0.802,0.808,0.815,0.805,0.798,
0.802,0.810,0.800,0.792,0.798,0.805,0.795,0.788,0.798,0.805,
0.800,0.792,0.798,0.805,0.795,0.788,0.792,0.800,0.790,0.782,
0.788,0.795,0.785,0.778,0.788,0.795,0.790,0.782,0.785,0.778,
0.780];
const tssgExpert4 = [0.960,0.958,0.965,0.960,0.962,0.955,0.955,0.958,0.950,0.945,
0.940,0.935,0.930,0.922,0.915,0.910,0.905,0.898,0.895,0.888,
0.885,0.878,0.880,0.872,0.875,0.868,0.870,0.862,0.865,0.858,
0.862,0.855,0.860,0.868,0.865,0.872,0.870,0.862,0.868,0.875,
0.865,0.858,0.862,0.868,0.860,0.852,0.858,0.865,0.855,0.848,
0.850,0.842,0.845,0.838,0.842,0.835,0.840,0.845,0.848,0.855,
0.855,0.862,0.860,0.852,0.862,0.870,0.868,0.862,0.855,0.848,
0.848,0.842,0.840,0.832,0.835,0.842,0.830,0.822,0.832,0.840,
0.835,0.828,0.832,0.838,0.830,0.822,0.820,0.812,0.810,0.802,
0.805,0.798,0.800,0.808,0.798,0.790,0.795,0.788,0.798,0.805,
0.800,0.792,0.795,0.788,0.790,0.798,0.792,0.785,0.795,0.802,
0.798,0.805,0.800,0.792,0.795,0.788,0.790,0.782,0.788,0.795,
0.785];
const tssgExpert5 = [0.960,0.962,0.965,0.968,0.962,0.958,0.960,0.955,0.950,0.952,
0.948,0.942,0.945,0.940,0.935,0.928,0.925,0.930,0.920,0.912,
0.910,0.915,0.908,0.900,0.905,0.912,0.902,0.895,0.900,0.908,
0.900,0.892,0.900,0.908,0.898,0.890,0.895,0.902,0.890,0.882,
0.885,0.892,0.880,0.872,0.875,0.882,0.870,0.862,0.865,0.872,
0.860,0.852,0.855,0.862,0.852,0.845,0.850,0.858,0.848,0.840,
0.845,0.852,0.842,0.835,0.840,0.848,0.838,0.830,0.835,0.842,
0.838,0.845,0.840,0.848,0.835,0.828,0.830,0.838,0.828,0.820,
0.825,0.832,0.820,0.812,0.815,0.822,0.812,0.805,0.810,0.818,
0.808,0.800,0.805,0.812,0.802,0.795,0.800,0.808,0.802,0.795,
0.805,0.812,0.802,0.795,0.800,0.808,0.798,0.790,0.795,0.802,
0.798,0.805,0.800,0.792,0.802,0.810,0.800,0.795,0.802,0.810,
0.805];
const tssgExpert6 = [0.955,0.962,0.960,0.955,0.958,0.962,0.955,0.950,0.945,0.948,
0.940,0.935,0.930,0.925,0.922,0.928,0.915,0.908,0.910,0.915,
0.905,0.898,0.900,0.895,0.890,0.882,0.885,0.892,0.880,0.872,
0.878,0.885,0.875,0.868,0.872,0.880,0.870,0.862,0.868,0.875,
0.865,0.858,0.860,0.868,0.855,0.848,0.850,0.858,0.845,0.838,
0.842,0.850,0.840,0.832,0.835,0.842,0.830,0.822,0.832,0.840,
0.835,0.828,0.832,0.840,0.830,0.822,0.825,0.818,0.820,0.815,
0.812,0.805,0.800,0.792,0.805,0.812,0.810,0.802,0.812,0.820,
0.815,0.808,0.812,0.820,0.810,0.802,0.805,0.798,0.800,0.792,
0.790,0.782,0.780,0.772,0.782,0.790,0.785,0.778,0.788,0.795,
0.790,0.782,0.788,0.795,0.785,0.778,0.782,0.775,0.780,0.788,
0.785,0.792,0.790,0.785,0.782,0.775,0.770,0.765,0.780,0.788,
0.790];
const tssgExpert7 = [0.955,0.962,0.965,0.960,0.962,0.966,0.960,0.955,0.955,0.960,
0.950,0.945,0.940,0.935,0.932,0.938,0.925,0.918,0.918,0.925,
0.910,0.902,0.905,0.912,0.900,0.892,0.895,0.902,0.890,0.882,
0.888,0.895,0.885,0.878,0.882,0.890,0.880,0.872,0.878,0.885,
0.875,0.868,0.870,0.878,0.865,0.858,0.862,0.870,0.860,0.852,
0.855,0.848,0.850,0.858,0.852,0.845,0.850,0.858,0.852,0.860,
0.855,0.848,0.852,0.860,0.850,0.842,0.845,0.852,0.840,0.835,
0.845,0.850,0.852,0.860,0.858,0.848,0.840,0.832,0.835,0.842,
0.830,0.822,0.828,0.835,0.825,0.818,0.820,0.828,0.815,0.808,
0.812,0.820,0.810,0.802,0.812,0.820,0.815,0.808,0.812,0.820,
0.810,0.805,0.815,0.822,0.820,0.812,0.818,0.825,0.815,0.808,
0.812,0.820,0.810,0.802,0.812,0.820,0.815,0.808,0.818,0.825,
0.820];
const tssgExpert8 = [0.970,0.965,0.960,0.962,0.955,0.950,0.945,0.938,0.930,0.928,
0.925,0.918,0.920,0.912,0.905,0.898,0.900,0.905,0.895,0.888,
0.885,0.878,0.875,0.868,0.870,0.875,0.865,0.858,0.860,0.852,
0.858,0.850,0.855,0.862,0.858,0.852,0.860,0.865,0.855,0.848,
0.850,0.842,0.845,0.838,0.840,0.848,0.842,0.835,0.840,0.846,
0.838,0.830,0.835,0.842,0.832,0.825,0.830,0.836,0.828,0.820,
0.825,0.818,0.820,0.812,0.815,0.808,0.812,0.818,0.810,0.802,
0.810,0.815,0.810,0.802,0.815,0.822,0.820,0.812,0.818,0.825,
0.815,0.808,0.812,0.805,0.810,0.818,0.815,0.822,0.815,0.808,
0.810,0.802,0.805,0.798,0.802,0.808,0.800,0.792,0.795,0.788,
0.790,0.798,0.795,0.802,0.800,0.808,0.805,0.812,0.810,0.802,
0.805,0.798,0.800,0.792,0.798,0.805,0.795,0.788,0.792,0.798,
0.790];
const tssgExpert9 = [0.950,0.962,0.965,0.968,0.965,0.960,0.962,0.966,0.960,0.955,
0.958,0.950,0.945,0.940,0.935,0.938,0.930,0.925,0.922,0.928,
0.915,0.908,0.910,0.915,0.905,0.898,0.900,0.906,0.895,0.888,
0.892,0.898,0.895,0.888,0.898,0.905,0.900,0.892,0.898,0.904,
0.895,0.888,0.890,0.896,0.885,0.878,0.880,0.888,0.875,0.868,
0.868,0.862,0.860,0.852,0.850,0.855,0.858,0.866,0.865,0.872,
0.870,0.878,0.875,0.882,0.880,0.874,0.878,0.870,0.875,0.868,
0.865,0.858,0.855,0.848,0.845,0.850,0.842,0.835,0.840,0.846,
0.840,0.832,0.838,0.845,0.840,0.832,0.835,0.842,0.830,0.822,
0.825,0.818,0.815,0.808,0.818,0.825,0.820,0.812,0.815,0.822,
0.810,0.815,0.820,0.826,0.815,0.808,0.812,0.818,0.810,0.803,
0.812,0.820,0.815,0.808,0.812,0.818,0.810,0.802,0.808,0.815,
0.805];
const tssgExpert10 = [0.915,0.955,0.965,0.968,0.962,0.958,0.960,0.963,0.955,0.952,
0.950,0.946,0.945,0.938,0.930,0.935,0.928,0.922,0.925,0.930,
0.915,0.908,0.912,0.918,0.910,0.902,0.908,0.915,0.905,0.898,
0.900,0.906,0.895,0.888,0.890,0.898,0.885,0.878,0.882,0.890,
0.880,0.872,0.875,0.882,0.870,0.862,0.865,0.872,0.860,0.852,
0.855,0.862,0.850,0.842,0.848,0.855,0.845,0.838,0.845,0.852,
0.845,0.838,0.842,0.850,0.840,0.832,0.835,0.842,0.830,0.822,
0.828,0.835,0.825,0.818,0.822,0.830,0.820,0.812,0.820,0.828,
0.820,0.812,0.818,0.825,0.815,0.808,0.812,0.820,0.810,0.802,
0.810,0.818,0.810,0.802,0.808,0.815,0.805,0.798,0.802,0.810,
0.800,0.792,0.798,0.805,0.795,0.788,0.798,0.805,0.800,0.792,
0.798,0.805,0.795,0.788,0.792,0.800,0.790,0.782,0.790,0.798,
0.790];

const panels = [
  [sd3Learned0,sd3Learned1,sd3Learned2,sd3Learned3,sd3Learned4,sd3Learned5,sd3Learned6,sd3Learned7,sd3Learned8,sd3Learned9,sd3Learned10],
  [sd3Expert0,sd3Expert1,sd3Expert2,sd3Expert3,sd3Expert4,sd3Expert5,sd3Expert6,sd3Expert7,sd3Expert8,sd3Expert9,sd3Expert10],
  [tssgLearned0,tssgLearned1,tssgLearned2,tssgLearned3,tssgLearned4,tssgLearned5,tssgLearned6,tssgLearned7,tssgLearned8,tssgLearned9,tssgLearned10],
  [tssgExpert0,tssgExpert1,tssgExpert2,tssgExpert3,tssgExpert4,tssgExpert5,tssgExpert6,tssgExpert7,tssgExpert8,tssgExpert9,tssgExpert10]
];

const traces = [];
panels.forEach((series, p) => {
  const ax = p === 0 ? '' : String(p + 1);
  series.forEach((vals, s) => {
    traces.push({
      type: 'scatter', mode: 'lines',
      x: samples, y: vals,
      name: seedNames[s], legendgroup: seedNames[s], showlegend: p === 0,
      xaxis: 'x' + ax, yaxis: 'y' + ax,
      line: {color: seedColors[s], width: 1.0},
      opacity: 0.95,
      hoverinfo: 'x+y+name'
    });
  });
});

const FONT = 'DejaVu Sans, Arial, sans-serif';
const leftDom = [0.0480, 0.5029];
const rightDom = [0.5473, 1.0];
const topDom = [0.5812, 0.9682];
const botDom = [0.0976, 0.4836];

function xAx(dom, range, anchor, mirror) {
  return {
    domain: dom, range: range, anchor: anchor, automargin: false,
    tickvals: xTickVals, ticktext: xTickText,
    ticks: 'outside', ticklen: 3.5, tickwidth: 0.8, tickcolor: '#555',
    tickfont: {family: FONT, size: 8.6, color: '#333'},
    showgrid: false, zeroline: false,
    showline: true, linecolor: '#888', linewidth: 1, mirror: mirror
  };
}
function yAx(dom, range, anchor, vals, title, mirror) {
  return {
    domain: dom, range: range, anchor: anchor, automargin: false,
    tickvals: vals, tickformat: '.2f',
    ticks: 'outside', ticklen: 3.5, tickwidth: 0.8, tickcolor: '#555',
    tickfont: {family: FONT, size: 8.6, color: '#333'},
    showgrid: false, zeroline: false,
    showline: true, linecolor: '#888', linewidth: 1, mirror: mirror,
    title: {text: title, font: {family: FONT, size: 11.6, color: '#111'}, standoff: 0}
  };
}

const titleFont = {family: FONT, size: 14.3, color: '#111'};
const axTitleFont = {family: FONT, size: 11.6, color: '#111'};
const smallFont = {family: FONT, size: 5.5, color: '#333'};
function note(text, x, y, xanchor, yanchor, yshift, font) {
  return {text: text, x: x, y: y, xref: 'paper', yref: 'paper', xanchor: xanchor, yanchor: yanchor, yshift: yshift, showarrow: false, borderpad: 0, font: font};
}

const layout = {
  width: 999, height: 628,
  margin: {l: 0, r: 0, t: 0, b: 0, autoexpand: false},
  paper_bgcolor: '#fff', plot_bgcolor: '#fff',
  font: {family: FONT},
  showlegend: true,
  legend: {
    orientation: 'h', x: 0.012, y: 0.0303, xanchor: 'left', yanchor: 'middle',
    font: {family: FONT, size: 11.6, color: '#111'},
    entrywidth: 44.5, entrywidthmode: 'pixels',
    bgcolor: 'rgba(0,0,0,0)', tracegroupgap: 0
  },
  xaxis: xAx(leftDom, [-0.15, 3.15], 'y', true),
  yaxis: yAx(topDom, [0.6236, 1.018], 'x', yTickVals1, yTitles[0], true),
  xaxis2: xAx(rightDom, [-0.15, 3.126], 'y2', true),
  yaxis2: yAx(topDom, [0.7255, 1.013], 'x2', yTickVals2, yTitles[1], false),
  xaxis3: xAx(leftDom, [-0.145, 3.148], 'y3', true),
  yaxis3: yAx(botDom, [0.645, 0.9954], 'x3', yTickVals3, yTitles[2], true),
  xaxis4: xAx(rightDom, [-0.15, 3.126], 'y4', true),
  yaxis4: yAx(botDom, [0.749, 0.9968], 'x4', yTickVals4, yTitles[3], false),
  annotations: [
    note(panelTitles[0], 0.2755, 0.9682, 'center', 'bottom', -1, titleFont),
    note(panelTitles[1], 0.7748, 0.9682, 'center', 'bottom', -1, titleFont),
    note(panelTitles[2], 0.2755, 0.4836, 'center', 'bottom', -1, titleFont),
    note(panelTitles[3], 0.7748, 0.4836, 'center', 'bottom', -1, titleFont),
    note(xTitle, 0.2755, 0.5430, 'center', 'middle', 0, axTitleFont),
    note(xTitle, 0.7745, 0.5430, 'center', 'middle', 0, axTitleFont),
    note(xTitle, 0.2755, 0.0605, 'center', 'middle', 0, axTitleFont),
    note(xTitle, 0.7745, 0.0605, 'center', 'middle', 0, axTitleFont),
    note('1e6', 0.4925, 0.5812, 'left', 'top', -14, smallFont),
    note('1e6', 1.0, 0.5812, 'right', 'top', -14, smallFont),
    note('1e6', 0.4925, 0.0976, 'left', 'top', -14, smallFont),
    note('1e6', 1.0, 0.0976, 'right', 'top', -14, smallFont)
  ]
};

Plotly.newPlot('chart', traces, layout, {displayModeBar: false, responsive: false, staticPlot: true});
</script>
</body>
</html>
